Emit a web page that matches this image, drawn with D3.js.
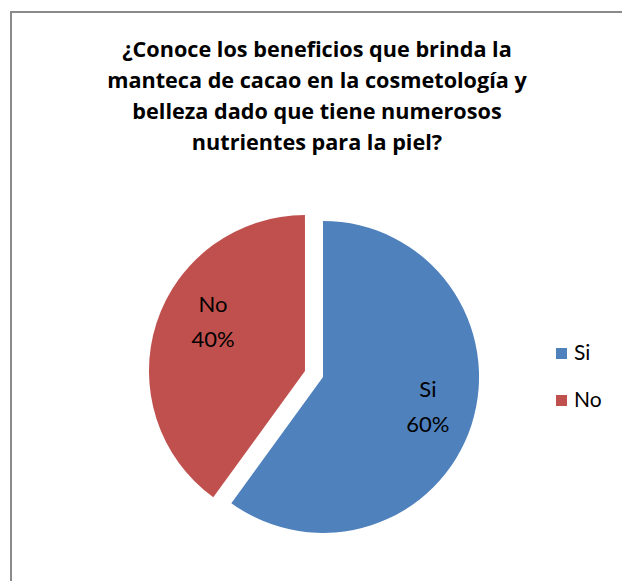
<!DOCTYPE html>
<html>
<head>
<meta charset="utf-8">
<script src="https://cdn.jsdelivr.net/npm/d3@7"></script>
<style>
  html, body { margin: 0; padding: 0; background: #fff; }
  svg { display: block; }
</style>
</head>
<body>
<svg id="chart" width="622" height="581"></svg>
<script>
// Survey answers and their shares
const categories = ["Si", "No"];
const values = [60, 40];
const colors = ["#4F81BD", "#C0504D"];
const titleLines = [
  "¿Conoce los beneficios que brinda la",
  "manteca de cacao en la cosmetología y",
  "belleza dado que tiene numerosos",
  "nutrientes para la piel?"
];

const svg = d3.select("#chart");
const font = "Lato, 'Open Sans', sans-serif";
const titleFont = "'Open Sans', Lato, sans-serif";

// Chart area frame (runs past the right and bottom edges)
svg.append("rect")
  .attr("x", 11).attr("y", 12)
  .attr("width", 640).attr("height", 600)
  .attr("fill", "#fff")
  .attr("stroke", "#8a8a8a")
  .attr("stroke-width", 2);

// Title, sized so the widest line spans about 420px
const title = svg.append("text")
  .attr("text-anchor", "middle")
  .attr("font-family", titleFont)
  .attr("font-weight", "bold")
  .attr("font-size", 20)
  .attr("fill", "#000");
titleLines.forEach((line, i) => {
  title.append("tspan")
    .attr("x", 317)
    .attr("y", 57 + i * 31)
    .text(line);
});
const widest = d3.max(title.selectAll("tspan").nodes(), n => n.getComputedTextLength());
title.attr("font-size", 20 * 420 / widest);

// Pie
const cx = 314, cy = 374, radius = 156, explode = 9.5;
const total = d3.sum(values);
const data = categories.map((c, i) => ({ name: c, value: values[i], color: colors[i] }));
const pie = d3.pie().value(d => d.value).sort(null);
const arc = d3.arc().innerRadius(0).outerRadius(radius);
const labelArc = d3.arc().innerRadius(radius * 0.68).outerRadius(radius * 0.68);
const labelNudge = { Si: [4, 0], No: [9, -13] };
const pct = d3.format(".0%");

const g = svg.append("g").attr("transform", `translate(${cx},${cy})`);
const slices = g.selectAll("g.slice")
  .data(pie(data))
  .join("g")
  .attr("class", "slice")
  .attr("transform", d => {
    const a = (d.startAngle + d.endAngle) / 2;
    return `translate(${explode * Math.sin(a)},${-explode * Math.cos(a)})`;
  });

slices.append("path")
  .attr("d", arc)
  .attr("fill", d => d.data.color);

slices.each(function(d) {
  const [lx, ly] = labelArc.centroid(d);
  const [nx, ny] = labelNudge[d.data.name];
  const t = d3.select(this).append("text")
    .attr("text-anchor", "middle")
    .attr("font-family", font)
    .attr("font-size", 22)
    .attr("fill", "#000");
  t.append("tspan").attr("x", lx + nx).attr("y", ly + ny - 13).text(d.data.name);
  t.append("tspan").attr("x", lx + nx).attr("y", ly + ny + 22).text(pct(d.data.value / total));
});

// Legend
const legend = svg.append("g").attr("transform", "translate(556,348)");
const items = legend.selectAll("g")
  .data(data)
  .join("g")
  .attr("transform", (d, i) => `translate(0,${i * 47})`);
items.append("rect")
  .attr("width", 11).attr("height", 11)
  .attr("fill", d => d.color);
items.append("text")
  .attr("x", 18).attr("y", 12)
  .attr("font-family", font)
  .attr("font-size", 21)
  .attr("fill", "#000")
  .text(d => d.name);
</script>
</body>
</html>
